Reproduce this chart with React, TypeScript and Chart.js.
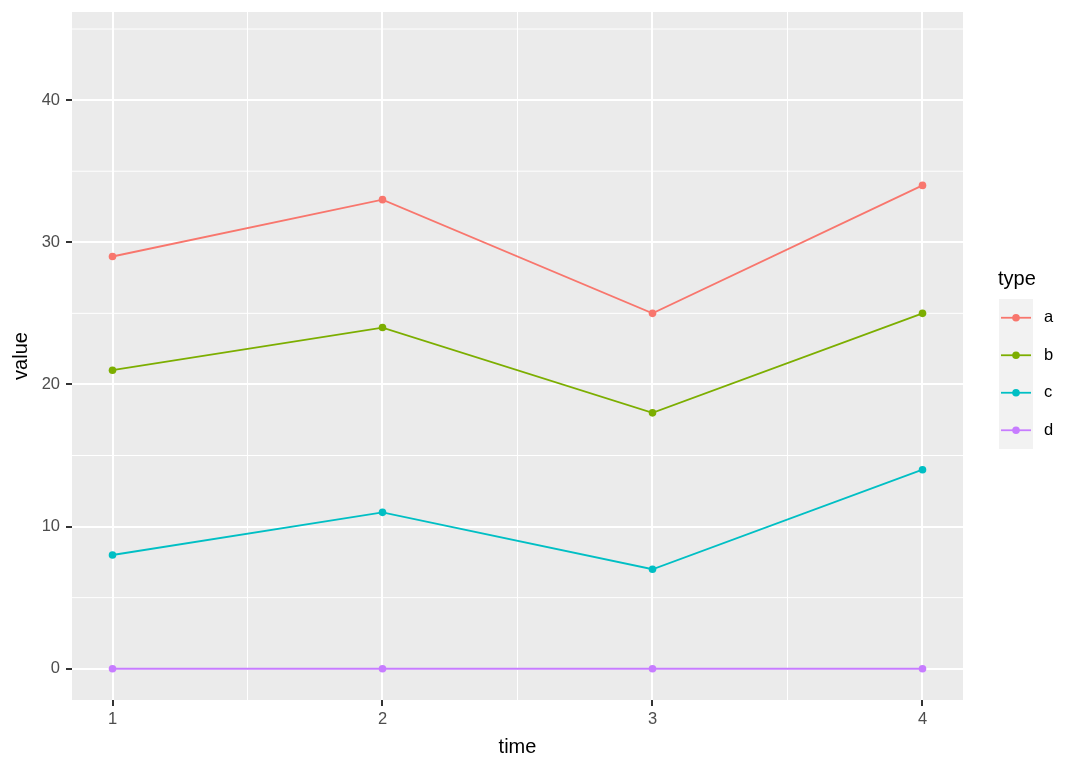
import React, { useEffect, useRef } from "react";
import { Chart, registerables } from "chart.js";

Chart.register(...registerables);

const times = [1, 2, 3, 4];
const seriesNames = ["a", "b", "c", "d"];
const valuesA = [29, 33, 25, 34];
const valuesB = [21, 24, 18, 25];
const valuesC = [8, 11, 7, 14];
const valuesD = [0, 0, 0, 0];
const seriesColors = ["#F8766D", "#7CAE00", "#00BFC4", "#C77CFF"];
const yTicks = [0, 10, 20, 30, 40];
const yMinorTicks = [5, 15, 25, 35, 45];
const xTicks = [1, 2, 3, 4];
const xMinorTicks = [1.5, 2.5, 3.5];
const xTitle = "time";
const yTitle = "value";
const legendTitle = "type";

const FONT = "'Liberation Sans', Arial, sans-serif";

const ggPlugin = {
  id: "ggStyle",
  beforeDraw(chart: any) {
    const { ctx, chartArea: ca, scales } = chart;
    ctx.save();
    ctx.fillStyle = "#EBEBEB";
    ctx.fillRect(ca.left, ca.top, ca.right - ca.left, ca.bottom - ca.top);
    ctx.strokeStyle = "#FFFFFF";
    ctx.lineWidth = 1;
    yMinorTicks.forEach((v) => {
      const y = scales.y.getPixelForValue(v);
      if (y < ca.top || y > ca.bottom) return;
      ctx.beginPath();
      ctx.moveTo(ca.left, y);
      ctx.lineTo(ca.right, y);
      ctx.stroke();
    });
    xMinorTicks.forEach((v) => {
      const x = scales.x.getPixelForValue(v);
      ctx.beginPath();
      ctx.moveTo(x, ca.top);
      ctx.lineTo(x, ca.bottom);
      ctx.stroke();
    });
    ctx.restore();
  },
  afterDraw(chart: any) {
    const { ctx } = chart;
    ctx.save();
    ctx.fillStyle = "#000000";
    ctx.font = `20px ${FONT}`;
    ctx.textBaseline = "middle";
    ctx.textAlign = "left";
    ctx.fillText(legendTitle, 998, 279);
    const keyLeft = 999;
    const keyW = 34;
    const keyH = 37.5;
    const keyTop = 299;
    ctx.fillStyle = "#F2F2F2";
    ctx.fillRect(keyLeft, keyTop, keyW, keyH * seriesNames.length);
    seriesNames.forEach((name, i) => {
      const cy = keyTop + keyH * (i + 0.5);
      const color = seriesColors[i];
      ctx.strokeStyle = color;
      ctx.lineWidth = 1.8;
      ctx.beginPath();
      ctx.moveTo(keyLeft + 2, cy);
      ctx.lineTo(keyLeft + keyW - 2, cy);
      ctx.stroke();
      ctx.fillStyle = color;
      ctx.beginPath();
      ctx.arc(keyLeft + keyW / 2, cy, 3.8, 0, Math.PI * 2);
      ctx.fill();
      ctx.fillStyle = "#000000";
      ctx.font = `16.5px ${FONT}`;
      ctx.fillText(name, 1044, cy);
    });
    ctx.restore();
  },
};

export default function App() {
  const ref = useRef<HTMLCanvasElement | null>(null);
  useEffect(() => {
    if (!ref.current) return;
    Chart.defaults.font.family = FONT;
    const seriesValues = [valuesA, valuesB, valuesC, valuesD];
    const chart = new Chart(ref.current, {
      type: "line",
      data: {
        datasets: seriesNames.map((name, i) => ({
          label: name,
          data: times.map((t, j) => ({ x: t, y: seriesValues[i][j] })),
          borderColor: seriesColors[i],
          backgroundColor: seriesColors[i],
          pointBackgroundColor: seriesColors[i],
          pointBorderWidth: 0,
          pointRadius: 3.8,
          borderWidth: 1.8,
          tension: 0,
          fill: false,
        })),
      },
      options: {
        responsive: false,
        animation: false,
        layout: { padding: { left: 0, top: 12, right: 117, bottom: 0 } },
        plugins: {
          legend: { display: false },
          tooltip: { enabled: false },
        },
        scales: {
          x: {
            type: "linear",
            min: 0.85,
            max: 4.15,
            afterBuildTicks: (s: any) => {
              s.ticks = xTicks.map((v) => ({ value: v }));
            },
            afterFit: (s: any) => {
              s.height = 71;
              s.paddingLeft = 0;
              s.paddingRight = 0;
            },
            grid: {
              color: "#FFFFFF",
              lineWidth: 2,
              tickColor: "#333333",
              tickLength: 6,
              drawTicks: true,
            },
            border: { display: false },
            ticks: {
              color: "#4D4D4D",
              font: { size: 16.5 },
              padding: 4,
              maxRotation: 0,
              callback: (v: any) => String(v),
            },
            title: {
              display: true,
              text: xTitle,
              color: "#000000",
              font: { size: 20 },
              padding: { top: 0, bottom: 12 },
            },
          },
          y: {
            type: "linear",
            min: -2.2,
            max: 46.2,
            afterBuildTicks: (s: any) => {
              s.ticks = yTicks.map((v) => ({ value: v }));
            },
            afterFit: (s: any) => {
              s.width = 72;
              s.paddingTop = 0;
              s.paddingBottom = 0;
            },
            grid: {
              color: "#FFFFFF",
              lineWidth: 2,
              tickColor: "#333333",
              tickLength: 6,
            },
            border: { display: false },
            ticks: {
              color: "#4D4D4D",
              font: { size: 16.5 },
              padding: 6,
              callback: (v: any) => String(v),
            },
            title: {
              display: true,
              text: yTitle,
              color: "#000000",
              font: { size: 20 },
              padding: { top: 9, bottom: 0 },
            },
          },
        },
      },
      plugins: [ggPlugin],
    });
    return () => chart.destroy();
  }, []);
  return (
    <div style={{ position: "absolute", left: 0, top: 0, width: 1080, height: 771, background: "#FFFFFF" }}>
      <canvas ref={ref} width={1080} height={771} style={{ display: "block" }} />
    </div>
  );
}
